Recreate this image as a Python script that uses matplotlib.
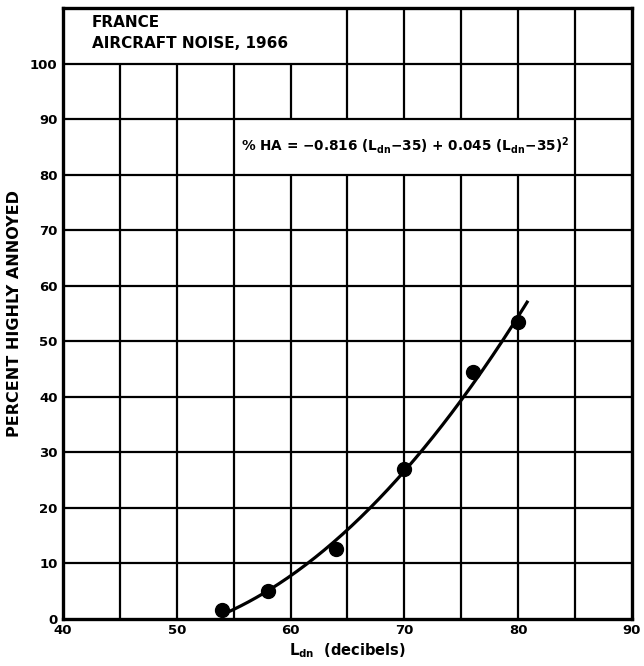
import matplotlib
matplotlib.use('Agg')
import matplotlib.pyplot as plt
import numpy as np

# survey points
ldn = [54, 58, 64, 70, 76, 80]
pct_ha = [1.5, 5.0, 12.5, 27.0, 44.5, 53.5]

# fitted curve printed on the chart: %HA = a (Ldn-35) + b (Ldn-35)^2
coef_a = -0.816
coef_b = 0.045
curve_range = (54.3, 80.8)

x_ticks = [40, 50, 60, 70, 80, 90]
y_ticks = [0, 10, 20, 30, 40, 50, 60, 70, 80, 90, 100]

plt.rcParams['font.family'] = ['DejaVu Sans']
plt.rcParams['font.weight'] = 'bold'
plt.rcParams['mathtext.default'] = 'bf'

fig = plt.figure(figsize=(6.44, 6.66), dpi=100)
ax = fig.add_axes([0.098, 0.071, 0.883, 0.917])
ax.set_xlim(40, 90)
ax.set_ylim(0, 110)

# grid, left open where the two text boxes sit
title_box = (40, 65, 100, 110)
eq_box = (55, 85, 80, 90)


def inside(v, lo, hi):
    return lo < v < hi


for gx in np.arange(45, 90, 5):
    segs = [(0, 110)]
    for x0, x1, y0, y1 in (title_box, eq_box):
        if inside(gx, x0, x1):
            new = []
            for a, b in segs:
                if b <= y0 or a >= y1:
                    new.append((a, b))
                else:
                    if a < y0:
                        new.append((a, y0))
                    if b > y1:
                        new.append((y1, b))
            segs = new
    for a, b in segs:
        ax.plot([gx, gx], [a, b], color='black', lw=1.6, zorder=1, solid_capstyle='butt')

for gy in np.arange(10, 110, 10):
    ax.axhline(gy, color='black', lw=1.6, zorder=1)

ax.text(42.5, 107.4, 'FRANCE', fontsize=11, fontweight='bold', va='center', zorder=3)
ax.text(42.5, 103.6, 'AIRCRAFT NOISE, 1966', fontsize=11, fontweight='bold', va='center', zorder=3)
ax.text(55.6, 85.3, r'% HA = $-$0.816 (L$_{dn}$$-$35) + 0.045 (L$_{dn}$$-$35)$^{2}$',
        fontsize=9.8, fontweight='bold', va='center', zorder=3)

# curve and points
xc = np.linspace(curve_range[0], curve_range[1], 200)
yc = coef_a * (xc - 35) + coef_b * (xc - 35) ** 2
ax.plot(xc, yc, color='black', lw=2.3, zorder=4)
ax.plot(ldn, pct_ha, 'o', color='black', markersize=10, zorder=5)

ax.set_xticks(x_ticks)
ax.set_yticks(y_ticks)
ax.tick_params(length=0, labelsize=9.5, pad=4)
for lab in ax.get_xticklabels() + ax.get_yticklabels():
    lab.set_fontweight('bold')
for s in ax.spines.values():
    s.set_linewidth(2.4)

ax.set_xlabel(r'L$_{dn}$  (decibels)', fontsize=10.5, fontweight='bold', labelpad=3)
ax.set_ylabel('PERCENT HIGHLY ANNOYED', fontsize=11.5, fontweight='bold', labelpad=6)

fig.savefig('out.png', dpi=100)
